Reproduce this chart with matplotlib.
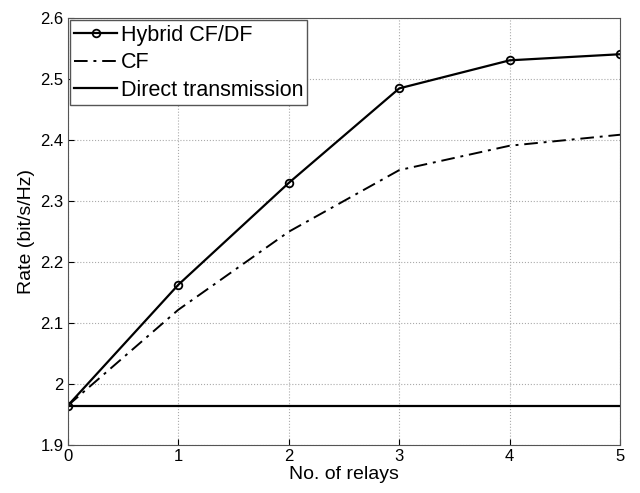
import matplotlib
matplotlib.use('Agg')
import matplotlib.pyplot as plt

plt.rcParams['font.family'] = ['Liberation Sans', 'DejaVu Sans']

relays = [0, 1, 2, 3, 4, 5]
hybrid = [1.965, 2.163, 2.330, 2.485, 2.531, 2.541]
cf = [1.965, 2.122, 2.250, 2.351, 2.391, 2.409]
direct = [1.965, 1.965, 1.965, 1.965, 1.965, 1.965]

fig = plt.figure(figsize=(6.4, 4.93), dpi=100)
ax = fig.add_axes([0.106, 0.097, 0.863, 0.866])

ax.plot(relays, hybrid, color='black', lw=1.6, marker='o', ms=5.5,
        mfc='none', mew=1.3, label='Hybrid CF/DF')
ax.plot(relays, cf, color='black', lw=1.4, linestyle=(0, (7, 3, 1.5, 3)), label='CF')
ax.plot(relays, direct, color='black', lw=1.6, label='Direct transmission')

ax.set_xlim(0, 5)
ax.set_ylim(1.9, 2.6)
ax.set_xticks(relays)
ax.set_yticks([1.9, 2.0, 2.1, 2.2, 2.3, 2.4, 2.5, 2.6])
ax.set_yticklabels(['1.9', '2', '2.1', '2.2', '2.3', '2.4', '2.5', '2.6'])
ax.tick_params(direction='in', labelsize=12, length=4, pad=3)
ax.grid(True, linestyle=':', color='#aaaaaa', lw=0.8)
for s in ax.spines.values():
    s.set_color('#555555')

ax.set_xlabel('No. of relays', fontsize=14, labelpad=1)
ax.set_ylabel('Rate (bit/s/Hz)', fontsize=14, labelpad=4)

leg = ax.legend(loc='upper left', fontsize=15.5, fancybox=False, framealpha=1,
                edgecolor='#555555', handlelength=2.0, handletextpad=0.15,
                borderaxespad=0.1, borderpad=0.2, labelspacing=0.3)

fig.savefig('out.png', dpi=100)
